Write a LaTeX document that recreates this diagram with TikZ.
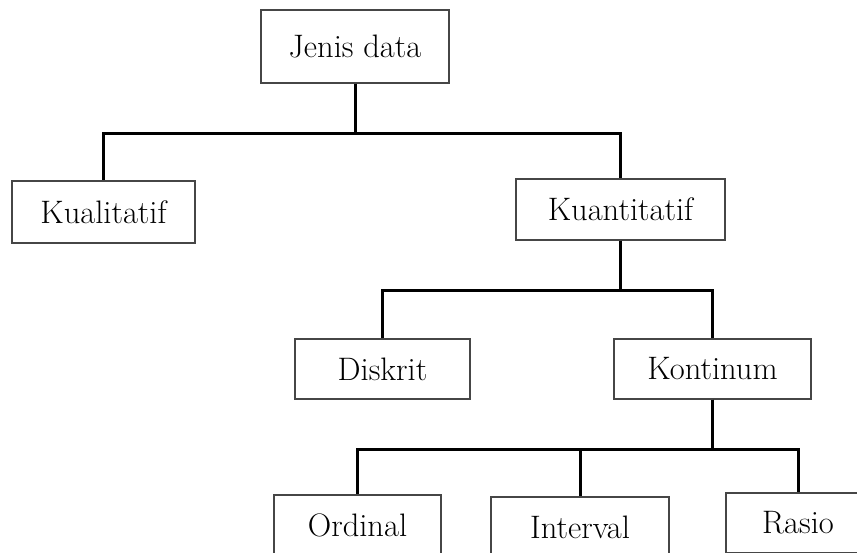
\documentclass[tikz,border=0pt]{standalone}
\usepackage{tikz}
\usetikzlibrary{positioning}

\begin{document}
\begin{tikzpicture}[x=1pt,y=1pt,
	main node/.style={rectangle,draw=boxgray,line width=1.4pt,fill=white,
		inner sep=0pt,font=\fontsize{32.5}{38}\selectfont},
	tree edge/.style={line width=3pt,
		to path={(\tikztostart) -- ++(0,-50) -| (\tikztotarget)}}]
	
	\definecolor{boxgray}{RGB}{70,70,70}
	
	\useasboundingbox (0,0) rectangle (857,552);
	
	\node[main node, minimum width=188pt, minimum height=73pt] (jd) at (355,505.5) {Jenis data};
	\node[main node, minimum width=183pt, minimum height=62pt] (kual) at (103.5,340) {Kualitatif};
	\node[main node, minimum width=209pt, minimum height=61pt] (kuan) at (620.5,342.5) {Kuantitatif};
	\node[main node, minimum width=175pt, minimum height=60pt] (disk) at (382.5,183) {Diskrit};
	\node[main node, minimum width=197pt, minimum height=60pt] (kont) at (712.5,183) {Kontinum};
	\node[main node, minimum width=167pt, minimum height=60pt] (ord) at (357.5,27) {Ordinal};
	\node[main node, minimum width=178pt, minimum height=60pt] (intv) at (580,25) {Interval};
	\node[main node, minimum width=144pt, minimum height=60pt] (ras) at (798,29) {Rasio};
	
	\path[tree edge]
	(jd.south) edge (kual.north)
	(jd.south) edge (kuan.north)
	(kuan.south) edge (disk.north)
	(kuan.south) edge (kont.north)
	(kont.south) edge (ord.north)
	(kont.south) edge (intv.north)
	(kont.south) edge (ras.north);
\end{tikzpicture}
\end{document}
